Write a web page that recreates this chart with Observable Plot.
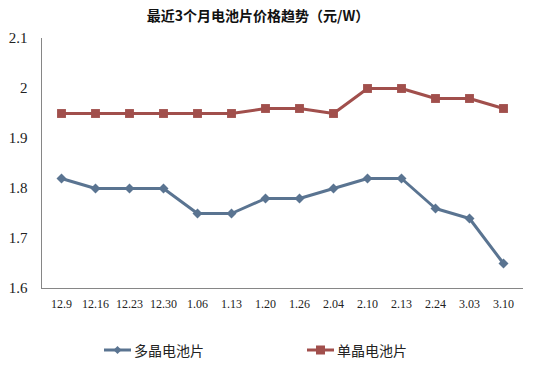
<!DOCTYPE html>
<html>
<head>
<meta charset="utf-8">
<script src="https://cdn.jsdelivr.net/npm/d3@7"></script>
<script src="https://cdn.jsdelivr.net/npm/@observablehq/plot@0.6"></script>
<style>
  html, body { margin: 0; padding: 0; background: #fff; }
  #wrap { position: relative; width: 535px; height: 369px; overflow: hidden; }
  #title { position: absolute; left: 0; width: 516px; top: 5px; text-align: center;
    font-family: "Noto Sans CJK SC", sans-serif; font-weight: bold; font-size: 14px; color: #111; }
  .leg { position: absolute; top: 340px; font-family: "Noto Sans CJK SC", sans-serif; font-size: 14px; color: #222;
    display: flex; align-items: center; }
  .leg svg { margin-right: 3px; }
  #chart svg text { font-family: "Liberation Serif", serif; }
</style>
</head>
<body>
<div id="wrap">
  <div id="chart"></div>
  <div id="title">最近3个月电池片价格趋势（元/W）</div>
  <div class="leg" style="left:104px"><svg width="27" height="12"><line x1="0" y1="6" x2="27" y2="6" stroke="#5a7491" stroke-width="3"/><path d="M13.5 2 L17.5 6 L13.5 10 L9.5 6 Z" fill="#5a7491"/></svg>多晶电池片</div>
  <div class="leg" style="left:307px"><svg width="27" height="12"><line x1="0" y1="6" x2="27" y2="6" stroke="#a14f4c" stroke-width="3"/><rect x="9" y="1.5" width="9" height="9" fill="#a14f4c"/></svg>单晶电池片</div>
</div>
<script>
const dates = ["12.9","12.16","12.23","12.30","1.06","1.13","1.20","1.26","2.04","2.10","2.13","2.24","3.03","3.10"];
const polyValues = [1.82,1.80,1.80,1.80,1.75,1.75,1.78,1.78,1.80,1.82,1.82,1.76,1.74,1.65];
const monoValues = [1.95,1.95,1.95,1.95,1.95,1.95,1.96,1.96,1.95,2.00,2.00,1.98,1.98,1.96];
const yTicks = [1.6,1.7,1.8,1.9,2.0,2.1];
const seriesNames = ["多晶电池片","单晶电池片"];

const poly = dates.map((d,i) => ({date: d, value: polyValues[i], series: seriesNames[0]}));
const mono = dates.map((d,i) => ({date: d, value: monoValues[i], series: seriesNames[1]}));

const polyColor = "#5a7491";
const monoColor = "#a14f4c";

const chart = Plot.plot({
  width: 535,
  height: 369,
  marginLeft: 41,
  marginRight: 13,
  marginTop: 38,
  marginBottom: 81,
  style: {background: "#fff", color: "#222"},
  x: {type: "point", domain: dates, padding: 0.5, label: null},
  y: {domain: [1.6, 2.1], label: null},
  marks: [
    Plot.axisY({ticks: yTicks, tickSize: 0, tickPadding: 14, fontSize: 15, tickFormat: d => String(+d.toFixed(1)), fill: "#222"}),
    Plot.axisX({tickSize: 0, tickPadding: 11, fontSize: 12, fill: "#222"}),
    Plot.frame({anchor: "left", stroke: "#868686"}),
    Plot.frame({anchor: "bottom", stroke: "#868686"}),
    Plot.lineY(mono, {x: "date", y: "value", stroke: monoColor, strokeWidth: 3}),
    Plot.dot(mono, {x: "date", y: "value", symbol: "square", r: 5, fill: monoColor}),
    Plot.lineY(poly, {x: "date", y: "value", stroke: polyColor, strokeWidth: 3}),
    Plot.dot(poly, {x: "date", y: "value", symbol: "diamond2", r: 4.5, fill: polyColor})
  ]
});
document.getElementById("chart").appendChild(chart);
</script>
</body>
</html>
